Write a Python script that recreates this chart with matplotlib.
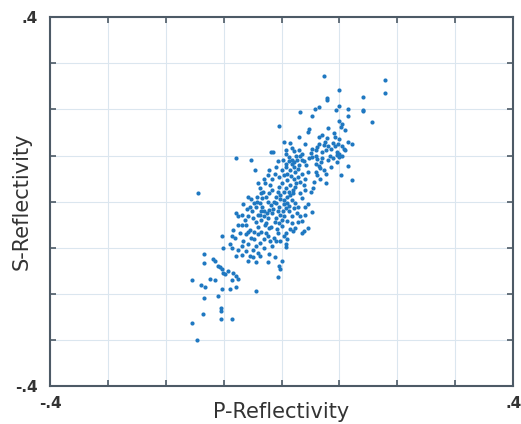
import numpy as np
import matplotlib
matplotlib.use("Agg")
from matplotlib import pyplot as plt

# (P, S) reflectivity pairs
upper_pts = [(0.073, 0.273), (0.178, 0.263), (0.178, 0.235), (0.099, 0.243), (0.141, 0.228),
             (0.078, 0.224), (0.079, 0.220), (0.064, 0.206), (0.058, 0.201), (0.100, 0.208),
             (0.114, 0.201), (0.140, 0.199), (0.141, 0.197), (0.094, 0.198), (0.032, 0.195),
             (0.052, 0.185), (0.114, 0.185), (0.100, 0.176), (0.156, 0.173), (-0.005, 0.164),
             (0.104, 0.169), (0.103, 0.163), (0.080, 0.160), (0.047, 0.158), (0.045, 0.151),
             (0.110, 0.155), (0.069, 0.144), (0.090, 0.149), (0.092, 0.140), (0.079, 0.139),
             (0.004, 0.129), (0.122, 0.126), (0.089, 0.128), (0.098, 0.126), (0.104, 0.120),
             (0.064, 0.126), (0.073, 0.124), (0.053, 0.115), (0.061, 0.118), (0.108, 0.115),
             (0.110, 0.112), (0.018, 0.116), (0.021, 0.110), (0.096, 0.107), (0.100, 0.104),
             (0.076, 0.111), (0.070, 0.107), (0.059, 0.113), (0.007, 0.104), (0.013, 0.097),
             (-0.019, 0.107), (-0.015, 0.107), (-0.079, 0.095), (-0.053, 0.090), (0.099, 0.097),
             (0.096, 0.102), (0.084, 0.100), (0.088, 0.095), (0.032, 0.100), (0.036, 0.091),
             (0.018, 0.091), (0.021, 0.086), (0.053, 0.097), (0.062, 0.093), (0.115, 0.077),
             (0.059, 0.082), (0.064, 0.077), (0.067, 0.073), (0.073, 0.068), (0.076, 0.061),
             (-0.046, 0.069), (0.102, 0.057), (0.122, 0.048), (0.062, 0.057), (0.066, 0.050),
             (0.056, 0.043), (0.076, 0.040), (-0.144, 0.019),
             (0.060, 0.065), (0.068, 0.085), (0.080, 0.090), (0.085, 0.115), (0.092, 0.120),
             (0.075, 0.130), (0.060, 0.100), (0.050, 0.105), (0.070, 0.095), (0.105, 0.100),
             (0.095, 0.085), (0.085, 0.075), (0.115, 0.130), (0.100, 0.135), (0.080, 0.120),
             (0.065, 0.140), (0.040, 0.125), (0.030, 0.140), (0.015, 0.128)]

core_pts = [(0.035, 0.104), (0.038, 0.089), (0.027, 0.091), (0.012, 0.089), (0.018, 0.082),
            (0.021, 0.075), (0.015, 0.068), (0.024, 0.064), (0.007, 0.082), (0.008, 0.075),
            (-0.007, 0.089), (-0.010, 0.075), (0.001, 0.068), (0.004, 0.057), (-0.005, 0.054),
            (-0.021, 0.068), (-0.024, 0.057), (-0.016, 0.050), (0.029, 0.054), (0.032, 0.043),
            (0.024, 0.032), (0.038, 0.036), (0.041, 0.025), (0.032, 0.018), (0.035, 0.007),
            (0.010, 0.046), (0.014, 0.036), (0.007, 0.029), (0.004, 0.021), (0.012, 0.021),
            (0.019, 0.018), (-0.005, 0.032), (-0.007, 0.021), (-0.010, 0.011), (-0.002, 0.014),
            (-0.016, 0.025), (-0.021, 0.018), (-0.027, 0.011), (-0.033, 0.007), (-0.038, 0.029),
            (-0.036, 0.018), (-0.043, 0.011), (-0.047, -0.004), (-0.055, -0.011), (-0.051, -0.021),
            (-0.058, -0.032), (-0.064, -0.039), (-0.038, -0.004), (-0.033, -0.011), (-0.036, -0.021),
            (-0.041, -0.029), (-0.030, -0.032), (-0.024, 0.000), (-0.019, -0.007), (-0.021, -0.018),
            (-0.016, -0.025), (-0.024, -0.036), (-0.027, -0.046), (-0.021, -0.057), (-0.010, -0.004),
            (-0.005, -0.011), (-0.007, -0.021), (-0.002, -0.029), (-0.010, -0.036), (-0.005, -0.046),
            (0.004, 0.004), (0.010, -0.004), (0.007, -0.014), (0.012, -0.021), (0.004, -0.032),
            (0.010, -0.043), (0.001, -0.054), (0.018, 0.004), (0.024, -0.004), (0.021, -0.014),
            (0.029, -0.011), (0.027, -0.025), (0.018, -0.032), (0.032, -0.032), (0.035, -0.043),
            (0.041, -0.011), (0.052, -0.023), (0.046, -0.057), (0.038, -0.064), (0.035, -0.068),
            (0.018, -0.046), (0.024, -0.057), (0.019, -0.064), (0.007, -0.068), (0.004, -0.075),
            (0.010, -0.082), (0.007, -0.093), (0.008, -0.098), (-0.007, -0.068), (-0.013, -0.079),
            (-0.010, -0.086), (-0.016, -0.096), (-0.027, -0.068), (-0.030, -0.082), (-0.024, -0.075),
            (-0.041, -0.071), (-0.047, -0.082), (-0.038, -0.089), (-0.044, -0.096), (-0.050, -0.104),
            (-0.041, -0.111), (-0.055, -0.061), (-0.061, -0.071), (-0.053, -0.079), (-0.067, -0.086),
            (-0.058, -0.093), (-0.072, -0.068), (-0.069, -0.050), (-0.075, -0.032), (-0.078, -0.025),
            (-0.030, -0.020), (-0.028, -0.050), (-0.035, -0.040), (-0.040, -0.055), (-0.045, -0.045),
            (-0.050, -0.035), (-0.048, -0.065), (-0.035, -0.065), (-0.025, -0.025), (-0.015, -0.015),
            (-0.012, -0.045), (-0.018, -0.055), (-0.008, -0.060), (0.000, -0.040), (0.002, -0.020),
            (0.005, -0.005), (0.010, 0.010), (0.015, 0.015), (0.013, -0.010), (0.020, 0.025),
            (0.025, 0.040), (0.016, 0.055), (0.022, 0.050), (0.028, 0.070), (0.030, 0.080),
            (0.010, 0.060), (0.000, 0.040), (-0.003, 0.005), (-0.013, 0.000), (-0.020, 0.035),
            (-0.028, 0.040), (-0.032, 0.020), (-0.042, 0.000), (-0.052, 0.005), (-0.060, -0.015),
            (-0.062, -0.050), (-0.058, -0.065), (-0.068, -0.030), (-0.045, -0.012), (-0.037, -0.030),
            (0.040, 0.050), (0.045, 0.065), (0.035, 0.060), (0.042, 0.080), (0.048, 0.095),
            (0.025, 0.100), (0.030, 0.112), (0.008, 0.112), (0.003, 0.090), (-0.012, 0.060),
            (-0.030, 0.050), (-0.040, 0.040), (-0.058, 0.010), (-0.066, -0.005), (-0.075, -0.050),
            (-0.080, -0.080), (-0.068, -0.115), (-0.050, -0.120), (-0.030, -0.100), (-0.020, -0.085),
            (-0.002, -0.085), (0.015, -0.060), (0.028, -0.045), (0.040, -0.030), (0.045, -0.005),
            (0.050, 0.020), (0.055, 0.030)]

lower_pts = [(-0.084, -0.061), (-0.086, -0.075), (-0.069, -0.096), (-0.075, -0.104), (-0.078, -0.118),
             (-0.061, -0.107), (-0.055, -0.118), (-0.058, -0.129), (-0.044, -0.132), (-0.038, -0.118),
             (-0.103, -0.075), (-0.102, -0.100), (-0.089, -0.093), (-0.086, -0.100), (-0.021, -0.114),
             (-0.024, -0.132), (-0.011, -0.121), (0.001, -0.129), (-0.007, -0.163), (-0.005, -0.139),
             (-0.003, -0.146), (-0.045, -0.193), (-0.134, -0.114), (-0.134, -0.134), (-0.119, -0.124),
             (-0.115, -0.129), (-0.109, -0.139), (-0.106, -0.143), (-0.103, -0.146), (-0.101, -0.154),
             (-0.098, -0.157), (-0.092, -0.150), (-0.084, -0.154), (-0.078, -0.161), (-0.123, -0.168),
             (-0.115, -0.171), (-0.103, -0.189), (-0.089, -0.189), (-0.078, -0.186), (-0.086, -0.171),
             (-0.075, -0.168), (-0.155, -0.171), (-0.139, -0.180), (-0.132, -0.186), (-0.134, -0.209),
             (-0.109, -0.205), (-0.105, -0.232), (-0.105, -0.237), (-0.136, -0.244), (-0.104, -0.254),
             (-0.085, -0.254), (-0.155, -0.263), (-0.146, -0.300)]

tick_vals = np.arange(-0.4, 0.41, 0.1)
tick_text = ['-.4', '', '', '', '', '', '', '', '.4']

pts = np.array(upper_pts + core_pts + lower_pts)

fig = plt.figure(figsize=(5.21, 4.24), dpi=100)
ax = fig.add_axes([0.096, 0.090, 0.889, 0.869])

ax.plot(pts[:, 0], pts[:, 1], 'o', color='#1f78c1', markersize=3.0, markeredgewidth=0)

ax.set_xlim(-0.4, 0.4)
ax.set_ylim(-0.4, 0.4)
ax.set_xticks(tick_vals)
ax.set_yticks(tick_vals)
ax.set_xticklabels(tick_text)
ax.set_yticklabels(tick_text)
ax.grid(True, color='#dbe6ef', linewidth=0.8)
ax.set_axisbelow(True)
ax.tick_params(direction='in', length=4, width=1.2, color='#4d5a66',
               top=True, right=True, labelsize=11, labelcolor='#333333')
ax.tick_params(axis='x', pad=7)
ax.tick_params(axis='y', pad=9)
for lbl in ax.get_xticklabels() + ax.get_yticklabels():
    lbl.set_fontweight('bold')
for s in ax.spines.values():
    s.set_color('#4d5a66')
    s.set_linewidth(1.5)

ax.set_xlabel('P-Reflectivity', fontsize=15, color='#333333')
ax.set_ylabel('S-Reflectivity', fontsize=15, color='#333333')
ax.xaxis.set_label_coords(0.5, -0.043)
ax.yaxis.set_label_coords(-0.04, 0.5)

fig.savefig('out.png', dpi=100)
